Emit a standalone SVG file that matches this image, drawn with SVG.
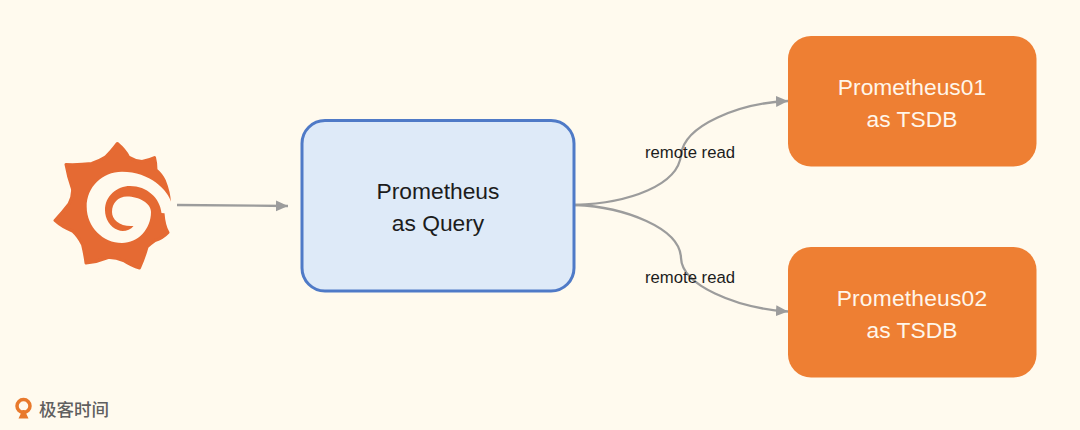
<svg xmlns="http://www.w3.org/2000/svg" width="1080" height="430" viewBox="0 0 1080 430">
<style>
.lbl{font-family:"Liberation Sans","Noto Sans",Arial,sans-serif;text-anchor:middle}
.big{font-size:22.8px}
.dark{fill:#1c1c1c}
.light{fill:#fff6ea}
.edge{fill:none;stroke:#9c9c9c;stroke-width:2.300;marker-end:url(#arrow)}
.tsdb{fill:#ee7f33}
.small{font-size:16.700px;fill:#1c1c1c}
</style>
<defs>
<marker id="arrow" markerUnits="userSpaceOnUse" markerWidth="13" markerHeight="12" refX="12" refY="6" orient="auto">
<path d="M0,0.500 L12,6 L0,11.500 Z" fill="#9c9c9c"/>
</marker>
</defs>
<rect width="1080" height="430" fill="#fffaee"/>
<g id="connectors">
<path class="edge" d="M177,205 L288,206"/>
<path class="edge" d="M575,205 C630,203 678,185 681,155 C684,125 740,103 788,101"/>
<path class="edge" d="M575,205 C625,207 680,228 681,258 C682,285 735,308 788,311.500"/>
</g>
<g id="grafana">
<path fill="#e56a33" stroke="#e56a33" stroke-width="3" stroke-linejoin="round" d="M117.300,143.500 Q125,150 128.500,157 Q135,161 142,161.500 Q149,160 154.500,157.500 Q156,163 156,170 Q161,174 164.500,181 Q169,192 169.500,203 L163,213 Q164,226 168,232.500 Q163,238 155,240.500 Q150,244 147,247 Q144,258 139.500,268 Q132,266 123.500,260.500 Q115,257 108,257.500 Q97,262 86,263 Q85,255 82.500,244.500 Q78,236 72.500,231 Q62,227 55,220.500 Q63,212 69,204 Q73,197 72.500,189 Q68,176 66,164.500 Q79,165 91.700,163.500 Q99,161 105.500,157 Q111,152 117.300,143.500 Z"/>
<path fill="#fffaee" d="M171.500,203 C168,190 150,171.700 122,171.700 C102,171.700 86.700,187 86.700,207 C86.700,227 103,243 122,243 C138,243 151,229 151,212 C151,203 139,196.500 127,196.500 C118,196.500 112,203 112,212 C112,220 120,227 133.500,226 C130,231 122,232 118,230 C110,227 105,219 105,210 C105,196 117,186 130,186 C147,186 160,198 161.500,213 L173,214 Z"/>
</g>
<g id="query">
<rect x="302" y="120.500" width="272" height="170.500" rx="23" fill="#deeaf8" stroke="#4f7ac7" stroke-width="3"/>
<text class="lbl big dark" x="438" y="199">Prometheus</text>
<text class="lbl big dark" x="438" y="231">as Query</text>
</g>
<g id="tsdb1">
<rect class="tsdb" x="788" y="36" width="248.500" height="130.500" rx="23"/>
<text class="lbl big light" x="912" y="95">Prometheus01</text>
<text class="lbl big light" x="912" y="127">as TSDB</text>
</g>
<g id="tsdb2">
<rect class="tsdb" x="788" y="247" width="248.500" height="130.500" rx="23"/>
<text class="lbl big light" x="912" y="306" letter-spacing="0.200">Prometheus02</text>
<text class="lbl big light" x="912" y="338">as TSDB</text>
</g>
<g id="label1"><text class="lbl small" x="690" y="158">remote read</text></g>
<g id="label2"><text class="lbl small" x="690" y="283">remote read</text></g>
<g id="brand">
<circle cx="23.500" cy="406" r="6.500" fill="none" stroke="#e8792c" stroke-width="3.500"/>
<path d="M18.500,418.500 L22.500,410 L24.500,410 L28.500,418.500 Z" fill="#e8792c"/>
<text x="39" y="415.500" font-family="'Noto Sans CJK SC',sans-serif" font-size="17.500px" font-weight="500" fill="#5f5f5f">极客时间</text>
</g>
</svg>
